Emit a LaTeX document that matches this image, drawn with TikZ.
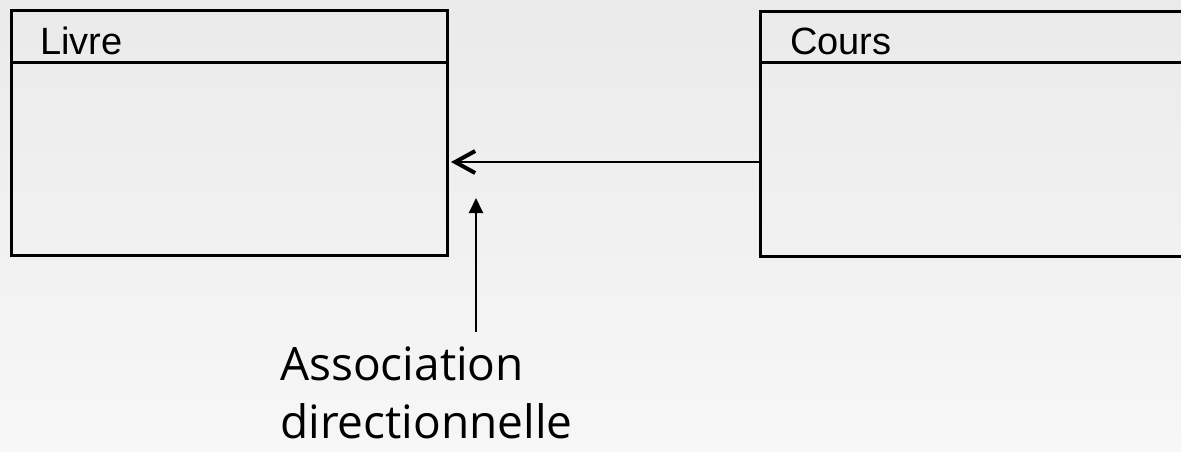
\documentclass[tikz,border=0pt]{standalone}
\usepackage{fontspec}
\setmainfont{Liberation Sans}
\newfontfamily\notefont{Open Sans}
\usetikzlibrary{arrows.meta}
\definecolor{bgtop}{RGB}{234,234,234}
\definecolor{bgbot}{RGB}{247,247,247}
\tikzset{
  classbox/.style={draw=black, line width=3pt, fill=none, inner sep=0pt, anchor=north west},
  classline/.style={draw=black, line width=3pt},
  classname/.style={inner sep=0pt, anchor=base west, font=\fontsize{38}{44}\selectfont},
  assoc/.style={draw=black, line width=2.4pt, -{Straight Barb[length=20pt, width=22pt, line width=4pt]}},
  pointer/.style={draw=black, line width=2pt, -{Triangle[length=15pt, width=14pt]}},
  note/.style={inner sep=0pt, anchor=base west, align=left, font=\notefont\fontsize{46}{58}\selectfont}
}
\begin{document}
\begin{tikzpicture}[x=1pt, y=-1pt]
  % background
  \shade[top color=bgtop, bottom color=bgbot] (0,0) rectangle (1181,451);
  \useasboundingbox (0,0) rectangle (1181,451);

  % class Livre
  \node[classbox, minimum width=436pt, minimum height=245pt] (livre) at (10,9) {};
  \draw[classline] ([yshift=-53pt]livre.north west) -- ([yshift=-53pt]livre.north east);
  \node[classname] (livrename) at (40,54) {Livre};

  % class Cours (runs past the right edge)
  \node[classbox, minimum width=440pt, minimum height=245pt] (cours) at (759,10) {};
  \draw[classline] ([yshift=-52pt]cours.north west) -- ([yshift=-52pt]cours.north east);
  \node[classname] (coursname) at (790,54) {Cours};

  % directed association Cours -> Livre
  \coordinate (assocy) at (0,162);
  \draw[assoc] (cours.west |- assocy) -- ([xshift=2pt]livre.east |- assocy);

  % annotation (base anchor sits on the last line)
  \node[note] (label) at (280,438) {Association\\directionnelle};
  \coordinate (ptrfoot) at (476,332);
  \coordinate (ptrtip) at (476,198);
  \draw[pointer] (ptrfoot) -- (ptrtip);
\end{tikzpicture}
\end{document}
